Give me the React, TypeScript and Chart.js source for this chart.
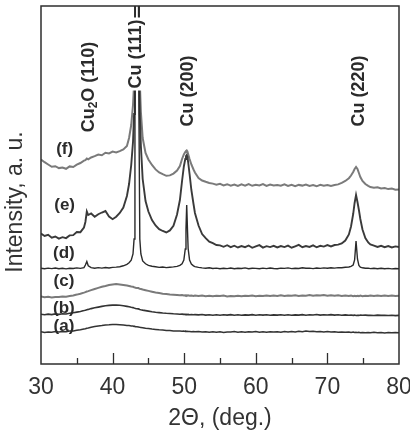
import { useEffect, useRef } from "react";
import { Chart, registerables } from "chart.js";

Chart.register(...registerables);

// Diffraction angle grid (deg), finer around the reflections
const twoTheta = [
  30, 30.5, 31, 31.5, 32, 32.5, 33, 33.5, 34, 34.5, 35, 35.5, 36,
  36.2, 36.4, 36.6, 37, 37.5, 38, 38.5, 39, 39.5, 40, 40.5, 41, 41.5, 42,
  42.3, 42.6, 42.85, 43.0, 43.12, 43.2, 43.4, 43.6, 43.68, 43.8, 43.95, 44.2, 44.6,
  45, 45.5, 46, 46.5, 47, 47.5, 48, 48.5, 49,
  49.4, 49.7, 49.95, 50.15, 50.25, 50.35, 50.45, 50.55, 50.75, 51.0, 51.3, 51.5,
  52, 52.5, 53, 53.5, 54, 54.5, 55, 55.5, 56, 56.5, 57, 57.5, 58, 58.5, 59, 59.5, 60, 60.5, 61, 61.5, 62, 62.5,
  63, 63.5, 64, 64.5, 65, 65.5, 66, 66.5, 67, 67.5, 68, 68.5, 69, 69.5, 70, 70.5, 71, 71.5, 72, 72.5, 73,
  73.3, 73.6, 73.8, 74.0, 74.2, 74.4, 74.6, 74.9, 75.3, 75.7,
  76, 76.5, 77, 77.5, 78, 78.5, 79, 79.5, 80,
];

const patternA = [
  32.3, 31.6, 32.1, 31.8, 32.4, 31.9, 32.6, 32.2, 33.0, 33.1, 33.8, 34.2, 35.0,
  35.2, 35.8, 36.0, 36.7, 37.4, 38.0, 38.4, 39.0, 39.2, 39.6, 39.5, 39.3, 39.0, 38.6,
  38.4, 38.0, 37.9, 37.5, 37.6, 37.3, 37.2, 37.0, 36.9, 36.8, 36.4, 36.3, 35.8,
  35.5, 35.0, 34.6, 34.2, 34.0, 33.6, 33.5, 33.1, 33.0,
  32.9, 32.7, 32.9, 32.6, 32.8, 32.5, 32.7, 32.4, 32.6, 32.3, 32.5, 32.2,
  32.4, 31.9, 32.3, 31.7, 32.2, 31.8, 32.3, 31.6, 32.1, 31.9, 32.4, 31.7, 32.2, 31.8, 32.3, 31.9, 32.5, 31.8, 32.2, 31.7, 32.3, 31.9,
  32.2, 31.8, 32.4, 32.0, 32.6, 32.1, 32.8, 32.3, 32.9, 32.4, 32.7, 32.2, 32.6, 32.0, 32.4, 31.9, 32.3, 31.8, 32.1, 31.7, 32.0,
  31.6, 31.9, 31.5, 31.8, 31.4, 31.7, 31.3, 31.6, 31.2, 31.5,
  31.3, 31.7, 31.2, 31.6, 31.1, 31.5, 31.2, 31.4, 31.3,
];

const patternB = [
  49.8, 49.2, 49.9, 49.4, 50.1, 49.6, 50.3, 50.0, 50.8, 51.2, 51.9, 52.5, 53.4,
  53.8, 54.3, 54.6, 55.4, 56.2, 56.9, 57.6, 58.2, 58.6, 58.9, 59.0, 58.7, 58.2, 57.6,
  57.2, 56.7, 56.4, 56.0, 55.8, 55.5, 55.3, 55.1, 54.9, 54.6, 54.3, 53.9, 53.4,
  52.9, 52.3, 51.8, 51.4, 51.0, 50.7, 50.5, 50.2, 50.0,
  49.8, 49.9, 49.6, 49.8, 49.5, 49.7, 49.4, 49.6, 49.3, 49.5, 49.2, 49.4,
  49.1, 49.5, 48.9, 49.3, 48.8, 49.2, 48.7, 49.3, 48.9, 49.4, 48.8, 49.2, 48.7, 49.1, 48.9, 49.4, 48.8, 49.3, 48.9, 49.2, 48.7, 49.1,
  48.9, 49.3, 48.8, 49.2, 48.7, 49.1, 48.9, 49.4, 48.8, 49.2, 49.0, 49.5, 48.9, 49.3, 49.0, 49.4, 48.9, 49.2, 48.8, 49.1, 48.7,
  49.0, 48.6, 48.9, 48.5, 48.8, 48.6, 49.0, 48.7, 48.9, 48.6,
  48.8, 48.5, 48.9, 48.6, 48.8, 48.5, 48.7, 48.4, 48.6,
];

const patternC = [
  67.4, 66.8, 67.2, 66.6, 67.0, 66.9, 67.5, 67.3, 68.0, 68.6, 69.4, 70.3, 71.4,
  71.9, 72.5, 72.9, 73.9, 75.0, 76.1, 77.2, 78.0, 78.9, 79.5, 80.0, 79.6, 79.0, 78.4,
  78.0, 77.5, 77.2, 76.8, 76.6, 76.3, 76.1, 75.9, 75.7, 75.3, 75.0, 74.5, 73.8,
  73.1, 72.3, 71.5, 70.9, 70.3, 69.9, 69.5, 69.2, 68.9,
  68.7, 68.9, 68.5, 68.8, 68.4, 68.7, 68.3, 68.6, 68.2, 68.5, 68.1, 68.4,
  68.0, 68.5, 67.8, 68.3, 67.7, 68.2, 67.9, 68.4, 67.6, 68.1, 67.8, 68.3, 67.7, 68.2, 67.9, 68.5, 67.8, 68.3, 68.0, 68.6, 67.9, 68.4,
  68.1, 68.7, 68.0, 68.5, 68.2, 68.8, 68.1, 68.6, 68.3, 68.9, 68.2, 68.7, 68.4, 69.0, 68.3, 68.8, 68.2, 68.7, 68.1, 68.6, 68.0,
  68.4, 67.9, 68.3, 67.8, 68.2, 67.9, 68.4, 67.8, 68.3, 68.0,
  68.5, 67.9, 68.4, 68.0, 68.6, 68.1, 68.5, 68.0, 68.3,
];

const patternD = [
  95.8, 95.2, 95.9, 95.4, 96.0, 95.3, 95.7, 95.1, 95.8, 95.5, 96.1, 95.6, 96.4,
  99.0, 102.5, 98.2, 96.3, 95.8, 96.4, 95.9, 96.5, 96.0, 96.6, 96.9, 97.3, 98.2, 99.6,
  101.2, 103.8, 110.0, 125.0, 250, 600, 1500, 600, 250, 125.0, 110.0, 103.0, 100.2,
  98.6, 97.7, 97.2, 96.6, 97.0, 96.4, 96.8, 97.1, 97.6,
  98.6, 100.3, 104.0, 115.0, 135.0, 159.0, 136.0, 115.5, 104.0, 100.0, 98.2, 97.4,
  96.6, 96.1, 95.7, 96.2, 95.5, 95.9, 95.3, 95.8, 95.4, 96.0, 95.2, 95.7, 95.5, 96.1, 95.3, 95.8, 95.6, 95.2, 95.9, 95.4, 96.0, 95.5,
  95.3, 95.9, 95.6, 96.1, 95.4, 95.8, 95.5, 96.2, 95.7, 95.9, 95.4, 96.0, 95.6, 96.1, 95.8, 96.3, 95.9, 96.4, 96.2, 96.7, 97.0,
  97.6, 99.0, 104.0, 123.0, 105.0, 98.6, 96.8, 96.2, 95.7, 95.9,
  95.4, 95.8, 95.3, 95.7, 95.2, 95.6, 95.1, 95.5, 95.3,
];

const patternE = [
  130.5, 128.0, 129.2, 126.3, 127.5, 125.4, 126.8, 125.9, 128.6, 128.9, 132.0, 131.8, 136.5,
  142.0, 152.5, 149.0, 150.5, 147.2, 149.8, 151.5, 153.0, 147.5, 144.8, 147.3, 151.0, 156.5, 168.0,
  180.0, 199.0, 222.0, 250.0, 300.0, 600, 1500, 600, 300.0, 250.0, 218.0, 185.0, 163.0,
  152.5, 144.0, 138.5, 134.8, 133.0, 131.5, 133.6, 138.2, 149.5,
  164.0, 183.0, 197.5, 205.0, 208.0, 209.0, 207.0, 202.0, 190.0, 174.0, 160.0, 151.0,
  138.5, 130.0, 125.8, 122.4, 120.8, 119.0, 118.6, 117.2, 118.8, 116.9, 118.3, 116.5, 117.9, 116.8, 118.5, 116.2, 117.6, 118.9, 116.4, 117.8, 116.9, 118.2,
  116.6, 118.0, 116.9, 118.4, 116.3, 117.7, 119.1, 116.8, 118.0, 117.1, 118.6, 116.7, 118.2, 117.4, 118.9, 117.6, 119.0, 119.4, 120.6, 123.5, 129.5,
  137.5, 150.0, 161.0, 169.0, 162.0, 154.0, 145.0, 134.5, 126.0, 121.5,
  119.5, 118.4, 117.0, 118.2, 116.8, 117.9, 116.5, 117.6, 117.0,
];

const patternF = [
  204.5, 201.8, 199.5, 197.2, 197.8, 195.9, 196.5, 195.2, 197.6, 197.0, 199.4, 201.0, 203.4,
  203.8, 205.5, 204.6, 206.5, 207.8, 209.5, 208.8, 211.3, 210.6, 212.4, 211.5, 212.8, 214.5, 218.0,
  226.0, 239.0, 259.0, 280.0, 320.0, 600, 1500, 600, 320.0, 282.0, 252.0, 226.0, 211.0,
  204.5, 199.0, 194.6, 191.5, 189.8, 188.2, 188.6, 190.4, 193.5,
  198.0, 205.0, 209.5, 212.0, 213.0, 213.5, 212.5, 210.0, 205.0, 199.5, 194.5, 191.5,
  186.0, 183.5, 182.2, 181.0, 180.4, 179.2, 180.1, 178.6, 179.8, 178.3, 179.5, 178.0, 179.6, 178.4, 180.0, 178.2, 179.3, 178.6, 179.9, 178.1, 179.4, 178.5,
  179.0, 178.2, 179.6, 178.0, 179.3, 177.9, 179.1, 178.4, 179.5, 178.1, 178.9, 177.7, 179.2, 178.3, 179.0, 178.0, 178.9, 179.6, 181.2, 183.0, 185.8,
  188.5, 192.0, 195.0, 197.0, 195.0, 191.0, 187.0, 183.0, 180.0, 178.2,
  177.0, 176.2, 176.8, 175.5, 176.0, 174.9, 175.4, 174.3, 174.6,
];

// Sample tags placed beside each pattern (angle, intensity)
const sampleTags = ["(a)", "(b)", "(c)", "(d)", "(e)", "(f)"];
const sampleTagAngle = [33.2, 33.2, 33.2, 33.2, 33.3, 33.3];
const sampleTagLevel = [38, 56, 83, 111, 159, 215];

// Reflection labels, drawn vertically
const peakNames = ["Cu|2|O (110)", "Cu (111)", "Cu (200)", "Cu (220)"];
const peakLabelAngle = [36.7, 43.3, 50.5, 74.4];
const peakLabelLevel = [277, 310, 273, 273];

const majorTicks = [40, 50, 60, 70];
const minorTicks = [35, 45, 55, 65, 75];

const FONT = "'Liberation Sans', Arial, Helvetica, sans-serif";
const INK = "#2b2b2b";

const decor = {
  id: "xrdDecor",
  afterDatasetsDraw(chart: any) {
    const { ctx, chartArea: ca, scales } = chart;
    const xs = scales.x;
    const ys = scales.y;
    ctx.save();

    // sample tags
    ctx.fillStyle = INK;
    ctx.font = `bold 17px ${FONT}`;
    ctx.textAlign = "center";
    ctx.textBaseline = "middle";
    sampleTags.forEach((t, i) => {
      ctx.fillText(t, xs.getPixelForValue(sampleTagAngle[i]), ys.getPixelForValue(sampleTagLevel[i]));
    });

    // reflection labels (parts separated by | alternate normal/subscript)
    const mainFont = `bold 18px ${FONT}`;
    const subFont = `bold 12px ${FONT}`;
    peakNames.forEach((name, i) => {
      const parts = name.split("|");
      let total = 0;
      const widths = parts.map((p, k) => {
        ctx.font = k % 2 === 1 ? subFont : mainFont;
        const w = ctx.measureText(p).width;
        total += w;
        return w;
      });
      const px = xs.getPixelForValue(peakLabelAngle[i]);
      const py = ys.getPixelForValue(peakLabelLevel[i]);
      ctx.save();
      ctx.translate(px, py);
      ctx.rotate(-Math.PI / 2);
      if (i === 1) {
        ctx.fillStyle = "#ffffff";
        ctx.fillRect(-total / 2 - 2, -10, total + 4, 20);
      }
      ctx.fillStyle = INK;
      ctx.textAlign = "left";
      ctx.textBaseline = "middle";
      let cx = -total / 2;
      parts.forEach((p, k) => {
        ctx.font = k % 2 === 1 ? subFont : mainFont;
        ctx.fillText(p, cx, k % 2 === 1 ? 5 : 0);
        cx += widths[k];
      });
      ctx.restore();
    });

    // frame
    ctx.strokeStyle = "#2e2e2e";
    ctx.lineWidth = 1.5;
    ctx.strokeRect(ca.left, ca.top, ca.right - ca.left, ca.bottom - ca.top);

    // inward ticks along the angle axis
    ctx.lineWidth = 1.3;
    ctx.beginPath();
    majorTicks.forEach((v) => {
      const p = Math.round(xs.getPixelForValue(v)) + 0.5;
      ctx.moveTo(p, ca.bottom);
      ctx.lineTo(p, ca.bottom - 11);
    });
    minorTicks.forEach((v) => {
      const p = Math.round(xs.getPixelForValue(v)) + 0.5;
      ctx.moveTo(p, ca.bottom);
      ctx.lineTo(p, ca.bottom - 6);
    });
    ctx.stroke();

    // intensity axis title
    ctx.save();
    ctx.translate(ca.left - 25, (ca.top + ca.bottom) / 2 + 17);
    ctx.rotate(-Math.PI / 2);
    ctx.font = `23px ${FONT}`;
    ctx.fillStyle = "#333333";
    ctx.textAlign = "center";
    ctx.textBaseline = "middle";
    ctx.fillText("Intensity, a. u.", 0, 0);
    ctx.restore();

    ctx.restore();
  },
};

const series = [
  { data: patternA, color: "#333333", width: 1.5 },
  { data: patternB, color: "#333333", width: 1.6 },
  { data: patternC, color: "#7a7a7a", width: 2.0 },
  { data: patternD, color: "#2a2a2a", width: 1.4 },
  { data: patternE, color: "#3a3a3a", width: 1.9 },
  { data: patternF, color: "#7a7a7a", width: 2.0 },
];

export default function App() {
  const canvasRef = useRef<HTMLCanvasElement | null>(null);

  useEffect(() => {
    if (!canvasRef.current) return;
    const chart = new Chart(canvasRef.current, {
      type: "line",
      data: {
        datasets: series.map((s, i) => ({
          label: sampleTags[i],
          data: twoTheta.map((t, k) => ({ x: t, y: s.data[k] })),
          borderColor: s.color,
          borderWidth: s.width,
          pointRadius: 0,
          tension: 0,
          fill: false,
        })),
      },
      options: {
        animation: false,
        responsive: true,
        maintainAspectRatio: false,
        layout: { padding: { left: 41, right: 11, top: 6, bottom: 0 } },
        plugins: { legend: { display: false }, tooltip: { enabled: false } },
        scales: {
          x: {
            type: "linear",
            min: 30,
            max: 80,
            afterFit: (scale: any) => {
              scale.height = 68;
              scale.paddingLeft = 0;
              scale.paddingRight = 0;
            },
            grid: { display: false, drawTicks: false },
            border: { display: false },
            ticks: {
              stepSize: 10,
              padding: 10,
              color: "#333333",
              font: { size: 23, family: FONT },
            },
            title: {
              display: true,
              text: "2\u0398, (deg.)",
              color: "#333333",
              font: { size: 23, family: FONT },
              padding: { top: 0, bottom: 0 },
            },
          },
          y: {
            type: "linear",
            display: false,
            min: 0,
            max: 358,
          },
        },
      },
      plugins: [decor],
    });
    return () => chart.destroy();
  }, []);

  return (
    <div style={{ position: "absolute", left: 0, top: 0, width: 410, height: 432, background: "#ffffff" }}>
      <canvas ref={canvasRef} />
    </div>
  );
}
